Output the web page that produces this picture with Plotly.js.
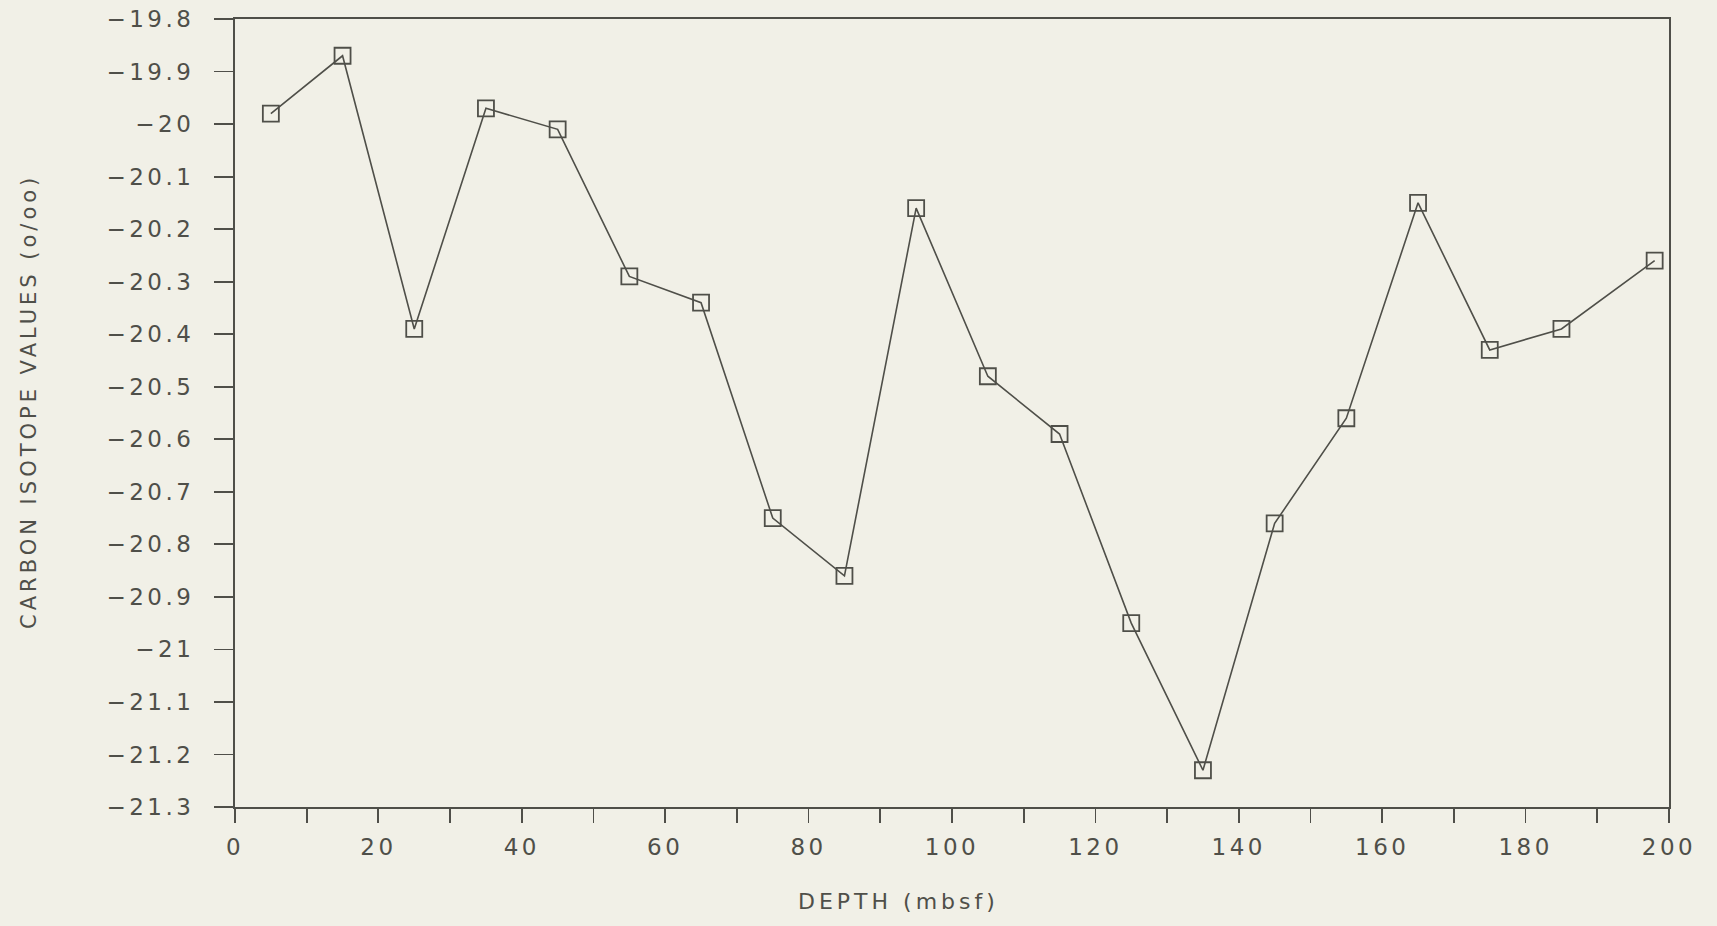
<!DOCTYPE html>
<html>
<head>
<meta charset="utf-8">
<script src="https://cdn.plot.ly/plotly-3.0.1.min.js"></script>
<style>
  html, body { margin: 0; padding: 0; background: #f1f0e7; }
  #chart { width: 1717px; height: 926px; }
  /* plotter-style wide lettering */
  .xtick text, .ytick text { letter-spacing: 3.5px; }
  .annotation-text { letter-spacing: 4px; }
</style>
</head>
<body>
<div id="chart"></div>
<script>
// Sample depths (mbsf) and carbon isotope values (o/oo)
const depth = [5, 15, 25, 35, 45, 55, 65, 75, 85, 95, 105, 115, 125, 135, 145, 155, 165, 175, 185, 198];
const carbonIsotope = [-19.98, -19.87, -20.39, -19.97, -20.01, -20.29, -20.34, -20.75, -20.86, -20.16,
                       -20.48, -20.59, -20.95, -21.23, -20.76, -20.56, -20.15, -20.43, -20.39, -20.26];

// Axis ticks
const xTickVals = [0, 10, 20, 30, 40, 50, 60, 70, 80, 90, 100, 110, 120, 130, 140, 150, 160, 170, 180, 190, 200];
const xTickText = ["0", "", "20", "", "40", "", "60", "", "80", "", "100", "", "120", "", "140", "", "160", "", "180", "", "200"];
const yTickVals = [-19.8, -19.9, -20, -20.1, -20.2, -20.3, -20.4, -20.5, -20.6, -20.7, -20.8, -20.9, -21, -21.1, -21.2, -21.3];
const yTickText = ["\u221219.8", "\u221219.9", "\u221220", "\u221220.1", "\u221220.2", "\u221220.3", "\u221220.4", "\u221220.5",
                   "\u221220.6", "\u221220.7", "\u221220.8", "\u221220.9", "\u221221", "\u221221.1", "\u221221.2", "\u221221.3"];

const xTitle = "DEPTH (mbsf)";
const yTitle = "CARBON ISOTOPE VALUES (o/oo)";

const ink = "#4f4f49";
const paper = "#f1f0e7";
const fontFamily = "DejaVu Sans, Verdana, sans-serif";

const trace = {
  x: depth,
  y: carbonIsotope,
  type: "scatter",
  mode: "lines+markers",
  line: { color: ink, width: 1.6 },
  marker: { symbol: "square-open", size: 16, color: ink, line: { color: ink, width: 1.8 } },
  hoverinfo: "x+y"
};

const layout = {
  width: 1717,
  height: 926,
  paper_bgcolor: paper,
  plot_bgcolor: paper,
  showlegend: false,
  margin: { l: 235, r: 48, t: 19, b: 119 },
  font: { family: fontFamily, size: 23, color: ink },
  xaxis: {
    range: [0, 200],
    tickmode: "array",
    tickvals: xTickVals,
    ticktext: xTickText,
    ticks: "outside",
    ticklen: 14,
    tickwidth: 1.8,
    tickcolor: ink,
    showline: true,
    linecolor: ink,
    linewidth: 2,
    mirror: true,
    showgrid: false,
    zeroline: false,
    ticklabelstandoff: 4,
    tickfont: { family: fontFamily, size: 23, color: ink }
  },
  yaxis: {
    range: [-21.3, -19.8],
    tickmode: "array",
    tickvals: yTickVals,
    ticktext: yTickText,
    ticks: "outside",
    ticklen: 19,
    tickwidth: 1.8,
    tickcolor: ink,
    showline: true,
    linecolor: ink,
    linewidth: 2,
    mirror: true,
    showgrid: false,
    zeroline: false,
    ticklabelstandoff: 15,
    tickfont: { family: fontFamily, size: 23, color: ink }
  },
  annotations: [
    {
      text: xTitle,
      xref: "paper", yref: "paper",
      x: 0.463, y: 0,
      yshift: -94,
      xanchor: "center", yanchor: "middle",
      showarrow: false,
      font: { family: fontFamily, size: 22, color: ink }
    },
    {
      text: yTitle,
      xref: "paper", yref: "paper",
      x: 0, y: 0.514,
      xshift: -206,
      xanchor: "center", yanchor: "middle",
      textangle: -90,
      showarrow: false,
      font: { family: fontFamily, size: 21, color: ink }
    }
  ]
};

Plotly.newPlot("chart", [trace], layout, { staticPlot: true, displayModeBar: false });
</script>
</body>
</html>
